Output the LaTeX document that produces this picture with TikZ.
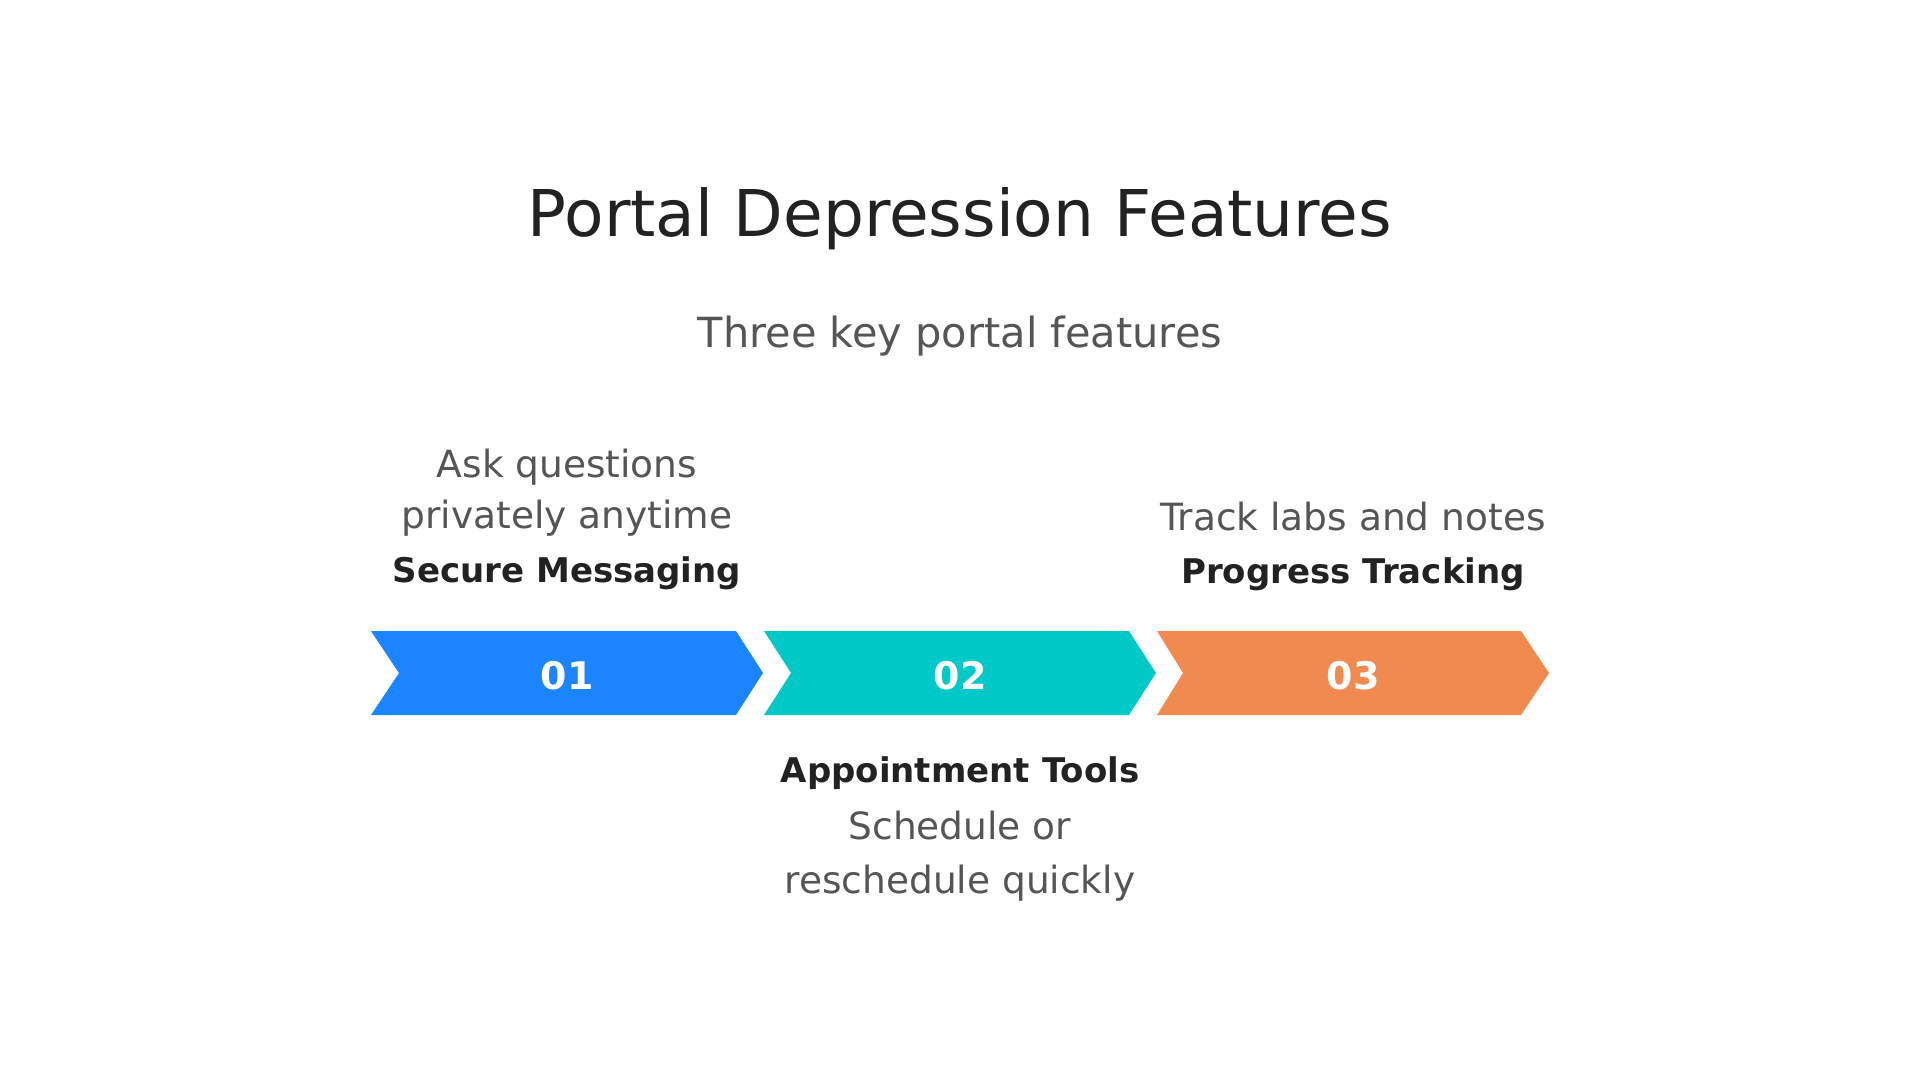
\documentclass[tikz,border=0pt]{standalone}
\usepackage{fontspec}
\setmainfont{DejaVu Sans}
\definecolor{cblue}{HTML}{1A85FF}
\definecolor{cteal}{HTML}{00C9C8}
\definecolor{corange}{HTML}{F08A4F}
\definecolor{tdark}{HTML}{222222}
\definecolor{tgray}{HTML}{555555}
\tikzset{
  desc/.style={anchor=base, text=tgray, inner sep=0pt, font=\fontsize{37.5}{42}\selectfont},
  head/.style={anchor=base, text=tdark, inner sep=0pt, font=\fontsize{34}{40}\selectfont\bfseries},
  num/.style={anchor=base, text=white, inner sep=0pt, font=\fontsize{38}{44}\selectfont\bfseries},
}
\begin{document}
\begin{tikzpicture}[x=1pt,y=-1pt]
\useasboundingbox (0,0) rectangle (1920,1080);
\fill[white] (0,0) rectangle (1920,1080);
% chevrons
\fill[cblue] (371,631) -- (736,631) -- (763,673) -- (736,715) -- (371,715) -- (399,673) -- cycle;
\fill[cteal] (764,631) -- (1129,631) -- (1156,673) -- (1129,715) -- (764,715) -- (791,673) -- cycle;
\fill[corange] (1157,631) -- (1521,631) -- (1549,673) -- (1521,715) -- (1157,715) -- (1183,673) -- cycle;
\node[num] (n1) at (567,689) {01};
\node[num] (n2) at (960,689) {02};
\node[num] (n3) at (1353,689) {03};
% title
\node[anchor=base, text=tdark, inner sep=0pt, font=\fontsize{64.5}{70}\selectfont] (title) at (960,236) {Portal Depression Features};
\node[anchor=base, text=tgray, inner sep=0pt, font=\fontsize{41.5}{48}\selectfont] (sub) at (960,347) {Three key portal features};
% texts
\node[desc] (d1a) at (567,477) {Ask questions};
\node[desc] (d1b) at (567,528) {privately anytime};
\node[head] (h1) at (567,582) {Secure Messaging};
\node[desc] (d3) at (1353,530) {Track labs and notes};
\node[head] (h3) at (1353,583) {Progress Tracking};
\node[head] (h2) at (960,782) {Appointment Tools};
\node[desc] (d2a) at (960,839) {Schedule or};
\node[desc] (d2b) at (960,893) {reschedule quickly};
\end{tikzpicture}
\end{document}
